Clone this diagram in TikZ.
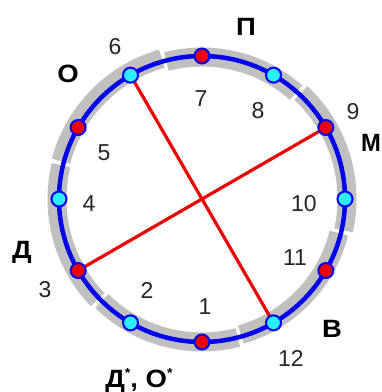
\documentclass[tikz,border=0pt]{standalone}
\usepackage{fontspec}
\setmainfont{Liberation Sans}
\definecolor{ringgray}{RGB}{192,192,192}
\definecolor{ringblue}{RGB}{0,0,240}
\definecolor{dotred}{RGB}{235,0,0}
\definecolor{dotcyan}{RGB}{40,240,255}
\begin{document}
\begin{tikzpicture}[x=1pt,y=1pt,
  graybar/.style={draw=ringgray, line width=19pt},
  ring/.style={draw=ringblue, line width=4.5pt},
  redline/.style={draw=dotred, line width=3.2pt},
  rdot/.style={circle, fill=dotred, draw=ringblue, line width=2pt, minimum size=15pt, inner sep=0pt},
  cdot/.style={circle, fill=dotcyan, draw=ringblue, line width=2pt, minimum size=15pt, inner sep=0pt},
  num/.style={font=\fontsize{23}{23}\selectfont, text=black!85, inner sep=0pt},
  lett/.style={font=\fontsize{25}{25}\selectfont\bfseries, inner sep=0pt, xscale=1.1}
]
\useasboundingbox (-202,-193) rectangle (180,199);
% gray band segments
\draw[graybar] (106:146) arc[start angle=106, end angle=165, radius=146];
\draw[graybar] (166.5:145) arc[start angle=166.5, end angle=224, radius=145];
\draw[graybar] (225.5:143) arc[start angle=225.5, end angle=284.5, radius=143];
\draw[graybar] (286:141) arc[start angle=286, end angle=346, radius=141];
\draw[graybar] (347.5:145) arc[start angle=347.5, end angle=407, radius=145];
\draw[graybar] (48.5:142) arc[start angle=48.5, end angle=104.5, radius=142];
% blue circle
\draw[ring] (0,0) circle[radius=143];
% point coordinates
\foreach \i in {0,...,11} {\coordinate (p\i) at ({30*\i}:143);}
% red diameters
\draw[redline] (p4) -- (p10);
\draw[redline] (p1) -- (p7);
% markers
\foreach \i in {0,2,4,6,8,10} {\node[cdot] (m\i) at (p\i) {};}
\foreach \i in {1,3,5,7,9,11} {\node[rdot] (m\i) at (p\i) {};}
% numbers
\node[num] (n1) at (3,-108) {1};
\node[num] (n2) at (-55,-91) {2};
\node[num] (n3) at (-157,-91) {3};
\node[num] (n4) at (-113,-5) {4};
\node[num] (n5) at (-98,46) {5};
\node[num] (n6) at (-87,152) {6};
\node[num] (n7) at (-1,100) {7};
\node[num] (n8) at (56,88) {8};
\node[num] (n9) at (151,87) {9};
\node[num] (n10) at (102,-5) {10};
\node[num] (n11) at (93,-59) {11};
\node[num] (n12) at (89,-159) {12};
% letters
\node[lett] (lP) at (44,172) {П};
\node[lett] (lO) at (-134,125) {О};
\node[lett, xscale=0.95/1.1] (lM) at (169,56) {М};
\node[lett] (lD) at (-180,-53) {Д};
\node[lett] (lV) at (130,-130) {В};
\node[lett, anchor=base] (lDO) at (-63,-188) {Д\raisebox{0.4em}{\fontsize{13}{13}\selectfont*}, О\raisebox{0.4em}{\fontsize{13}{13}\selectfont*}};
\end{tikzpicture}
\end{document}
